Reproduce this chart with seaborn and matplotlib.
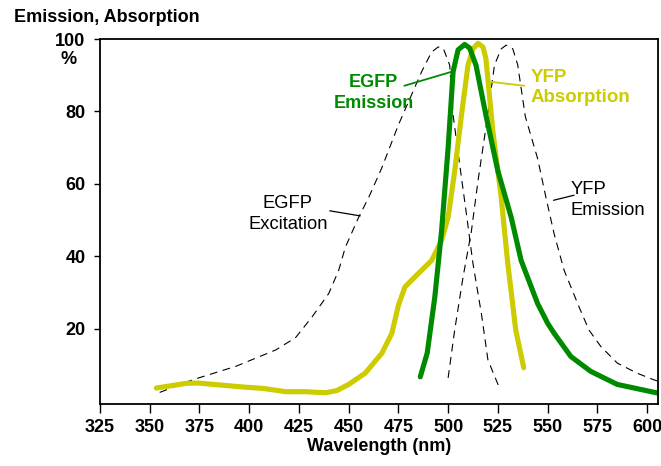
import matplotlib
matplotlib.use("Agg")
import matplotlib.pyplot as plt
import seaborn as sns
import pandas as pd

sns.set_theme(style="white")
plt.rcParams['font.family'] = ['Liberation Sans', 'DejaVu Sans']

# EGFP excitation (dashed)
egfp_ex_x = [355, 371.7, 393.3, 413.3, 423.3, 431.7, 440, 445, 448.3, 455, 460, 466.7, 475, 486.7, 491.7, 495, 497.5, 500.8, 502.5, 505.8, 509.2, 512.5, 516.7, 520, 525.8]
egfp_ex_y = [2.5, 6, 9.7, 14.2, 17.6, 23.4, 29.8, 36.2, 42.5, 50.8, 56.2, 64.5, 76.3, 91, 96.4, 97.8, 97.5, 92.8, 79, 65.4, 51.7, 38, 24.3, 11.5, 3.7]

# YFP emission (dashed)
yfp_em_x = [500, 503.3, 507.5, 511.7, 515, 519.2, 523.3, 526.7, 529.2, 532.5, 535, 538.8, 545, 549.2, 553.3, 558.3, 565.8, 570.8, 576.7, 585, 595, 603.3, 605.5]
yfp_em_y = [6.5, 19.7, 34.3, 47, 60.8, 76.3, 92.8, 97.3, 98.3, 97.3, 92.8, 78.6, 67, 56.2, 46.2, 36.2, 26.1, 19.7, 15.2, 10.6, 7.8, 6, 5.6]

# YFP absorption (yellow)
yfp_abs_x = [353.3, 368.3, 374, 396.7, 407, 418.3, 428, 438.3, 444, 450, 458.3, 466.7, 471.7, 475, 478.3, 485, 491.7, 496.7, 500, 503.3, 506.7, 510, 512.5, 515, 517.5, 519, 522.5, 526.7, 530, 534, 538]
yfp_abs_y = [3.7, 5.0, 5.1, 4.0, 3.6, 2.7, 2.7, 2.4, 3.0, 4.7, 7.8, 13.3, 18.8, 26.5, 31.6, 35.3, 38.9, 44.4, 50.8, 63.6, 79, 92.8, 97.3, 98.8, 97.8, 94.6, 74.5, 56.2, 38, 19.7, 9.3]

# EGFP emission (green)
egfp_em_x = [486, 489.5, 493.3, 496.7, 500, 502.5, 505, 508.3, 510.8, 514, 519, 525, 531.7, 536.7, 545, 550, 553.3, 561.7, 571.7, 585, 605.5]
egfp_em_y = [6.8, 13.4, 28.8, 47, 70, 91, 97, 98.5, 97.5, 92.8, 79, 63.6, 50.8, 38.9, 27, 21.6, 18.8, 12.4, 8.3, 4.7, 2.3]

x_ticks = [325, 350, 375, 400, 425, 450, 475, 500, 525, 550, 575, 600]
y_ticks = [20, 40, 60, 80, 100]

GREEN = "#008a00"
YELLOW = "#cccc00"

fig = plt.figure(figsize=(6.61, 4.66), dpi=100)
ax = fig.add_axes([100/661, 1-404/466, 558/661, 365/466])

dash_kw = dict(color="black", linewidth=0.8, dashes=(7, 5))
sns.lineplot(x=egfp_ex_x, y=egfp_ex_y, ax=ax, sort=False, estimator=None, **dash_kw)
sns.lineplot(x=yfp_em_x, y=yfp_em_y, ax=ax, sort=False, estimator=None, **dash_kw)
sns.lineplot(x=yfp_abs_x, y=yfp_abs_y, ax=ax, sort=False, estimator=None,
             color=YELLOW, linewidth=3.7, solid_capstyle="round", solid_joinstyle="round")
sns.lineplot(x=egfp_em_x, y=egfp_em_y, ax=ax, sort=False, estimator=None,
             color=GREEN, linewidth=3.7, solid_capstyle="round", solid_joinstyle="round")

ax.set_xlim(325, 605.5)
ax.set_ylim(-0.7, 100)
ax.set_xticks(x_ticks)
ax.set_xticklabels([str(t) for t in x_ticks])
ax.set_yticks(y_ticks)
ax.set_yticklabels([str(t) for t in y_ticks])

for s in ax.spines.values():
    s.set_visible(True)
    s.set_color("black")
    s.set_linewidth(1.3)

ax.tick_params(axis="x", which="major", direction="out", length=6.5, width=1, pad=4,
               bottom=True, labelsize=13, colors="black")
ax.tick_params(axis="y", which="major", direction="out", length=4, width=1, pad=6.5,
               left=True, labelsize=13, colors="black")
for lab in ax.get_xticklabels() + ax.get_yticklabels():
    lab.set_fontweight("bold")

ax.set_xlabel("Wavelength (nm)", fontsize=13, fontweight="bold", labelpad=2, color="black")
ax.set_ylabel("")

fig.text(14/661, 1-18/466, "Emission, Absorption", fontsize=13, fontweight="bold",
         ha="left", va="center", color="black")
fig.text(68.5/661, 1-59/466, "%", fontsize=13, fontweight="bold",
         ha="center", va="center", color="black")

# Labels and leader lines
ax.text(462.5, 85.1, "EGFP\nEmission", color=GREEN, fontsize=13, fontweight="bold",
        ha="center", va="center", multialignment="center", linespacing=1.3)
ax.plot([478, 502], [87.1, 91.0], color=GREEN, linewidth=1.3)

ax.text(541.5, 86.6, "YFP\nAbsorption", color=YELLOW, fontsize=13.5, fontweight="bold",
        ha="left", va="center", multialignment="left", linespacing=1.25)
ax.plot([521.3, 538.3], [88.2, 87.1], color=YELLOW, linewidth=1.3)

ax.text(419.5, 51.6, "EGFP\nExcitation", color="black", fontsize=13.2,
        ha="center", va="center", multialignment="center", linespacing=1.3)
ax.plot([440.5, 455.8], [52.6, 51.2], color="black", linewidth=0.9)

ax.text(561.5, 55.5, "YFP\nEmission", color="black", fontsize=13.2,
        ha="left", va="center", multialignment="left", linespacing=1.3)
ax.plot([553, 563.3], [55.5, 56.9], color="black", linewidth=0.9)

fig.savefig("out.png", dpi=100)
